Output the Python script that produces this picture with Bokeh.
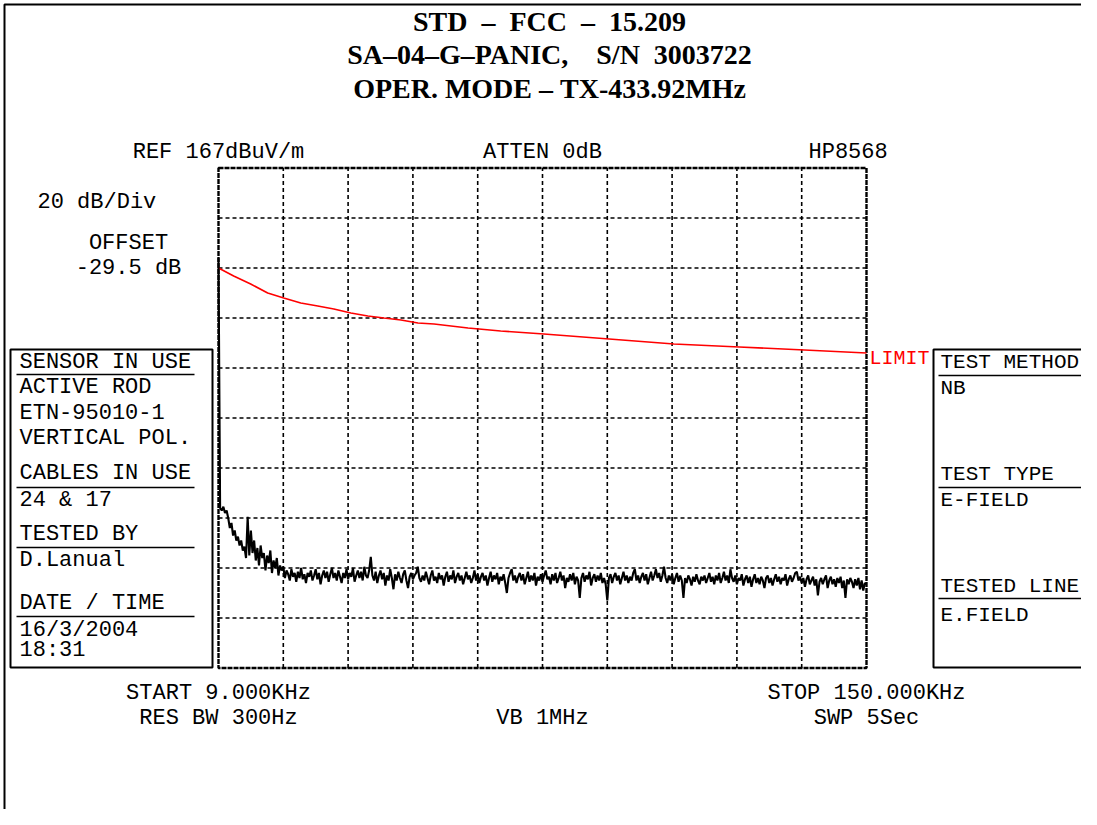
from bokeh.plotting import figure
from bokeh.models import Range1d
from bokeh.embed import file_html
from bokeh.resources import INLINE
from bokeh.core.properties import value
import numpy as np

# ---------------- data ----------------
NB = "\u00a0"
TITLE_LINES = ["STD" + NB * 2 + "\u2013" + NB * 2 + "FCC" + NB * 2 + "\u2013" + NB * 2 + "15.209",
               "SA\u201304\u2013G\u2013PANIC," + NB * 4 + "S/N" + NB * 2 + "3003722",
               "OPER." + NB + "MODE" + NB + "\u2013" + NB + "TX-433.92MHz"]

F_START, F_STOP = 9.0, 150.0        # kHz
REF_LEVEL = 167.0                   # dBuV/m (top of screen)
DB_PER_DIV = 20.0
N_DIV = 10

LIMIT_FREQ = [9.0, 12.3, 16.0, 19.7, 23.2, 26.9, 30.6, 34.1, 37.8, 41.5, 45.0,
              48.7, 52.4, 55.9, 63.3, 70.4, 79.8, 94.0, 108.1, 122.3, 136.5, 150.0]
LIMIT_DB = [127.0, 123.8, 120.6, 117.0, 115.0, 113.0, 111.8, 110.6, 109.0, 107.8, 107.0,
            106.2, 105.0, 104.6, 103.0, 101.8, 100.6, 98.6, 96.6, 95.4, 94.2, 93.0]

TRACE_DB = [
    131, 31, 30, 31.5, 29, 30, 27, 23, 25, 20, 22, 18, 19.5, 16, 18, 14, 15.5, 11, 27.5, 12,
    22, 13, 18, 10, 15, 8, 16, 11, 13, 6, 12, 9, 14, 5, 10, 7, 11, 4, 8, 6,
    7.5, 3, 6, 4.5, 2, 6.5, 3.5, 5, 1.5, 5.5, 3, 7, 2.5, 4.5, 1, 5, 3.5, 6, 2, 4,
    6.5, 2.5, 5, 0.5, 4, 6, 3, 5.5, 1.5, 4.5, 7, 3, 5, 2, 6, 3.5, 1, 5, 3, 6.5,
    2.5, 5, 3.5, 7, 1.5, 4, 6, 3, 5.5, 2, 7.5, 4, 3, 6, 11.5, 4, 2, 5.5, 1, 4,
    6, 2.5, 5, 0, 4, 2, 6.5, 3, -1.5, 4.5, 2, 5.5, 3, 1, 4.5, 6, 2, -1, 3.5, 5,
    2.5, 4, 5, 7.5, 3, 1.5, 4, 2, 5.5, 3, 0.5, 4, 6, 2, 3.5, 1, 5, 2.5, 4, 0,
    3.5, 5.5, 1.5, 4, 2.5, 6, 1, 3.5, 5, 2, 4, 0.5, 3, 5.5, 2.5, 4, 1, 3, 6, 2,
    4.5, 1, 3.5, 5, 2, 4, 0, 3, 5.5, 1.5, 4, 2.5, 5, 0.5, 3.5, 2, 4.5, 1, -3, 3,
    5, 6.5, 2, 4, 1, 3.5, 5, 2, 4.5, 0.5, 3, 5.5, 1.5, 4, 2, 5, 0, 3.5, 2, 4.5,
    1.5, 4, 6, 2.5, 3.5, 0.5, 4.5, 2, 5, 1, 3, 5.5, 2, 4, -1, 3, 1.5, 4.5, 2, 5,
    0.5, 3.5, 2, -5, 3, 5, 1.5, 4, 2.5, 5.5, 0, 3, 4.5, 1.5, 4, 2, 5, 1, 3, 0.5,
    -6, 3, 4.5, 1, 3.5, 5, 2, 4, 0.5, 3, 5.5, 2, 4, 1, 3.5, 2, 5, 6.5, 2, 4,
    1, 3.5, 5, 2, 4.5, 0.5, 3, 5.5, 2, 4, 6.5, 3, 5, 1.5, 4, 7.5, 3, 1, 4, 2,
    4.5, 0.5, 3, 5, 1.5, 4, 2, -5, 3, 1, 4, 2.5, 0, 3.5, 1.5, 4.5, 2, 0.5, 3.5, 2,
    4, 1, 3, 5, 1.5, 3.5, 0.5, 4, 2, 5, 1, 3, 5.5, 2, 4, 1, 6.5, 3, 1.5, 4,
    0.5, 3, 2, 4.5, 0, 2.5, 4, 1, 3.5, -0.5, 2.5, 4.5, 1, 3, 0.5, 3.5, 2, -1, 3, 4,
    1, 3, 0, 2.5, 4.5, 1.5, 3.5, 0.5, 3, 2, 4.5, 0, 2.5, 4, 1.5, 3, 5, 5.5, 2, 3.5,
    1, 3, -0.5, 2.5, 4, 0.5, 2, 3.5, 0, 2.5, -4, 1.5, 3, 0.5, 2.5, 4, -1, 2, 3.5, 0.5,
    2.5, -0.5, 3, 1, 3.5, -1, 2, -5, 2.5, 0.5, 3, 1.5, -1, 2.5, 0, 3, -1.5, 2, -2, 1, 0.5,
]
TRACE_FREQ = np.linspace(F_START, F_STOP, len(TRACE_DB))

TOP_LABELS = ["REF 167dBuV/m", "ATTEN 0dB", "HP8568"]
BOTTOM_LABELS_1 = ["START 9.000KHz", "STOP 150.000KHz"]
BOTTOM_LABELS_2 = ["RES BW 300Hz", "VB 1MHz", "SWP 5Sec"]
SIDE_LABELS = ["20 dB/Div", "OFFSET", "-29.5 dB"]

LEFT_BOX = ["SENSOR IN USE", "ACTIVE ROD", "ETN-95010-1", "VERTICAL POL.",
            "CABLES IN USE", "24 & 17", "TESTED BY", "D.Lanual", "DATE / TIME",
            "16/3/2004", "18:31"]
RIGHT_BOX = ["TEST METHOD", "NB", "TEST TYPE", "E-FIELD", "TESTED LINE", "E.FIELD"]

# ---------------- layout (picture pixel coordinates) ----------------
W, H = 1081, 809
PLOT_L, PLOT_R = 218.0, 866.0
PLOT_T, PLOT_B = 167.5, 667.5

MONO = value("Liberation Mono")
SERIF = value("Liberation Serif")

p = figure(width=W, height=H, output_backend="svg", toolbar_location=None,
           x_axis_type=None, y_axis_type=None,
           x_range=Range1d(0, W), y_range=Range1d(H, 0),
           min_border=0, outline_line_color=None)
p.background_fill_color = "white"
p.border_fill_color = "white"

# analyser scales: frequency (kHz) and level (dBuV/m) mapped onto the screen rectangle
kpp = (F_STOP - F_START) / (PLOT_R - PLOT_L)
bottom_db = REF_LEVEL - DB_PER_DIV * N_DIV
dpp = (REF_LEVEL - bottom_db) / (PLOT_B - PLOT_T)
p.extra_x_ranges = {"f": Range1d(F_START - PLOT_L * kpp, F_START + (W - PLOT_L) * kpp)}
p.extra_y_ranges = {"db": Range1d(bottom_db - (H - PLOT_B) * dpp, REF_LEVEL + PLOT_T * dpp)}

# graticule
fx = [F_START + k * (F_STOP - F_START) / N_DIV for k in range(1, N_DIV)]
dy = [REF_LEVEL - k * DB_PER_DIV for k in range(1, N_DIV)]
p.segment(x0=fx, x1=fx, y0=[bottom_db] * len(fx), y1=[REF_LEVEL] * len(fx),
          x_range_name="f", y_range_name="db", line_color="black",
          line_width=1.6, line_dash="4 3")
p.segment(x0=[F_START] * len(dy), x1=[F_STOP] * len(dy), y0=dy, y1=dy,
          x_range_name="f", y_range_name="db", line_color="black",
          line_width=1.6, line_dash="4 3")
p.quad(left=[F_START], right=[F_STOP], bottom=[bottom_db], top=[REF_LEVEL],
       x_range_name="f", y_range_name="db", fill_color=None,
       line_color="black", line_width=2.4, line_dash="5 1")

# limit and trace
p.line(LIMIT_FREQ, LIMIT_DB, x_range_name="f", y_range_name="db",
       line_color="#ff0000", line_width=1.6)
p.line(TRACE_FREQ, TRACE_DB, x_range_name="f", y_range_name="db",
       line_color="black", line_width=2.1)

# page border (left and top)
p.line([4, 4, W], [H, 4, 4], line_color="black", line_width=2)

# title
p.text(x=[549] * 3, y=[21, 54, 88], text=TITLE_LINES, text_font=SERIF,
       text_font_style="bold", text_font_size="28px", text_align="center",
       text_baseline="middle", text_color="black")

# top row
p.text(x=[PLOT_L, (PLOT_L + PLOT_R) / 2], y=[152, 152], text=TOP_LABELS[:2],
       text_font=MONO, text_font_size="22px", text_align="center",
       text_baseline="middle", text_color="black")
p.text(x=[808], y=[152], text=TOP_LABELS[2:], text_font=MONO, text_font_size="22px",
       text_align="left", text_baseline="middle", text_color="black")

# side labels
p.text(x=[37], y=[202], text=SIDE_LABELS[:1], text_font=MONO, text_font_size="22px",
       text_align="left", text_baseline="middle", text_color="black")
p.text(x=[128, 128], y=[243, 268], text=SIDE_LABELS[1:], text_font=MONO,
       text_font_size="22px", text_align="center", text_baseline="middle", text_color="black")

# bottom labels
p.text(x=[PLOT_L, PLOT_R], y=[693, 693], text=BOTTOM_LABELS_1, text_font=MONO,
       text_font_size="22px", text_align="center", text_baseline="middle", text_color="black")
p.text(x=[PLOT_L, (PLOT_L + PLOT_R) / 2, PLOT_R], y=[718, 718, 718], text=BOTTOM_LABELS_2,
       text_font=MONO, text_font_size="22px", text_align="center", text_baseline="middle",
       text_color="black")

# LIMIT tag
p.text(x=[869], y=[358], text=["LIMIT"], text_font=MONO, text_font_size="20px",
       text_align="left", text_baseline="middle", text_color="#ff0000")

# left info box
p.quad(left=[10], right=[212], top=[349], bottom=[667], fill_color=None,
       line_color="black", line_width=2)
left_y = [362, 387, 413, 438, 473, 500, 534, 560, 603, 630, 650]
p.text(x=[19] * len(LEFT_BOX), y=left_y, text=LEFT_BOX, text_font=MONO,
       text_font_size="22px", text_align="left", text_baseline="middle", text_color="black")
lu = [374, 487, 547, 616]
p.segment(x0=[16] * 4, x1=[194] * 4, y0=lu, y1=lu, line_color="black", line_width=1.6)

# right info box
p.line([W + 5, 933, 933, W + 5], [349, 349, 667, 667], line_color="black", line_width=2)
right_y = [362, 388, 474, 500, 586, 615]
p.text(x=[940] * len(RIGHT_BOX), y=right_y, text=RIGHT_BOX, text_font=MONO,
       text_font_size="21px", text_align="left", text_baseline="middle", text_color="black")
ru = [375, 487, 598]
p.segment(x0=[938] * 3, x1=[W + 5] * 3, y0=ru, y1=ru, line_color="black", line_width=1.6)

open("out.html", "w").write(file_html(p, INLINE))
